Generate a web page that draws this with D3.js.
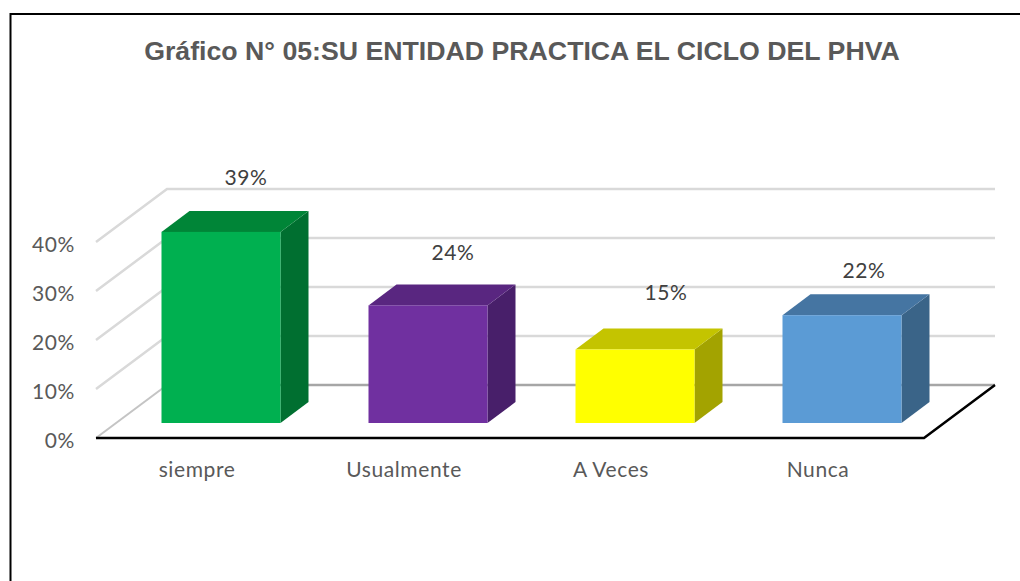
<!DOCTYPE html>
<html>
<head>
<meta charset="utf-8">
<script src="https://cdn.jsdelivr.net/npm/d3@7"></script>
<style>
	html, body { margin:0; padding:0; background:#fff; }
	svg { display:block; }
	.tick text, .lbl { font-family:Lato, sans-serif; font-size:21px; letter-spacing:0.6px; }
	.tick text { fill:#595959; }
	.lbl { fill:#404040; }
</style>
</head>
<body>
<div id="chart"></div>
<script>
var categories = ['siempre', 'Usualmente', 'A Veces', 'Nunca'];
var values = [39, 24, 15, 22];
var frontColors = ['#00b050', '#7030a0', '#ffff00', '#5b9bd5'];
var topColors = ['#008537', '#592680', '#c4c400', '#4575a2'];
var sideColors = ['#006f30', '#481f6a', '#a3a300', '#3a6488'];
var yTicks = [0, 10, 20, 30, 40];
var titleText = 'Gráfico N° 05:SU ENTIDAD PRACTICA EL CICLO DEL PHVA';

var width = 1020, height = 581;
var floorLeft = 96, floorRight = 924, floorY = 438;
var depthX = 71, depthY = -53; // floor depth, front edge to back wall
var barDepthX = 28, barDepthY = -21;
var barInsetX = 21.5, barInsetY = -15; // bars stand a little behind the front edge

var svg = d3.select('#chart').append('svg').attr('width', width).attr('height', height);

// page frame, only top and left show
svg.append('path').attr('d', d3.line()([[10.5, height], [10.5, 14], [width, 14]]))
	.attr('fill', 'none').attr('stroke', '#000').attr('stroke-width', 2);

svg.append('text').attr('x', 522).attr('y', 60).attr('text-anchor', 'middle')
	.style('font-family', '"Liberation Sans", Arial, sans-serif')
	.style('font-size', '26.7px').style('font-weight', 'bold').style('fill', '#595959')
	.text(titleText);

var x = d3.scaleBand().domain(categories).range([floorLeft, floorRight]);
var y = d3.scaleLinear().domain([0, 40]).range([floorY, floorY - 196]);

// walls
yTicks.slice(1).forEach(function(t) {
	svg.append('path')
		.attr('d', d3.line()([[floorLeft, y(t)], [floorLeft + depthX, y(t) + depthY], [floorRight + depthX, y(t) + depthY]]))
		.attr('fill', 'none').attr('stroke', '#d9d9d9').attr('stroke-width', 2.5);
});

// floor
svg.append('path').attr('d', d3.line()([[floorLeft, floorY], [floorLeft + depthX, floorY + depthY]]))
	.attr('fill', 'none').attr('stroke', '#c4c4c4').attr('stroke-width', 2);
svg.append('path').attr('d', d3.line()([[floorLeft + depthX, floorY + depthY], [floorRight + depthX, floorY + depthY]]))
	.attr('fill', 'none').attr('stroke', '#a6a6a6').attr('stroke-width', 2.5);
svg.append('path').attr('d', d3.line()([[floorLeft, floorY], [floorRight, floorY], [floorRight + depthX, floorY + depthY]]))
	.attr('fill', 'none').attr('stroke', '#000').attr('stroke-width', 2.5);

// bars
var bars = svg.selectAll('g.bar').data(values).enter().append('g').attr('class', 'bar');
function barLeft(i) { return x(categories[i]) + x.bandwidth() / 2 + barInsetX - 59.5; }
function barRight(i) { return barLeft(i) + 119; }
function barTop(d) { return y(d) + barInsetY; }
var bottom = floorY + barInsetY;

bars.append('path').attr('fill', function(d, i) { return sideColors[i]; })
	.attr('d', function(d, i) {
		return d3.line()([[barRight(i), barTop(d)], [barRight(i) + barDepthX, barTop(d) + barDepthY],
			[barRight(i) + barDepthX, bottom + barDepthY], [barRight(i), bottom]]) + 'Z';
	});
bars.append('path').attr('fill', function(d, i) { return topColors[i]; })
	.attr('d', function(d, i) {
		return d3.line()([[barLeft(i), barTop(d)], [barLeft(i) + barDepthX, barTop(d) + barDepthY],
			[barRight(i) + barDepthX, barTop(d) + barDepthY], [barRight(i), barTop(d)]]) + 'Z';
	});
bars.append('rect').attr('fill', function(d, i) { return frontColors[i]; })
	.attr('x', function(d, i) { return barLeft(i); })
	.attr('y', barTop)
	.attr('width', 119)
	.attr('height', function(d) { return bottom - barTop(d); });

// value labels, the original has them hand placed so each one gets a nudge
var nudgeX = [1, 1, 7, -2];
var nudgeY = [0, 2, -3, 10];
bars.append('text').attr('class', 'lbl').attr('text-anchor', 'middle')
	.attr('x', function(d, i) { return barLeft(i) + 59.5 + 24 + nudgeX[i]; })
	.attr('y', function(d, i) { return barTop(d) - 47 + nudgeY[i]; })
	.text(function(d) { return d + '%'; });

// axes
var yAxis = d3.axisLeft(y).tickValues(yTicks).tickSize(0).tickPadding(0)
	.tickFormat(function(d) { return d + '%'; });
var yg = svg.append('g').attr('transform', 'translate(' + (floorLeft - 21) + ',2.5)').call(yAxis);
yg.select('.domain').remove();

var xAxis = d3.axisBottom(x).tickSize(0).tickPadding(0);
var xg = svg.append('g').attr('transform', 'translate(-2.5,' + (floorY + 24) + ')').call(xAxis);
xg.select('.domain').remove();
</script>
</body>
</html>
